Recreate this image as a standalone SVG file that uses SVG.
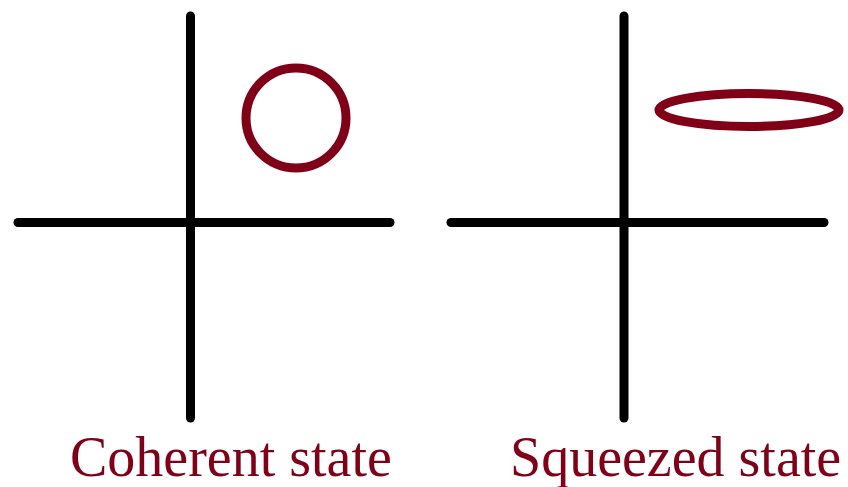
<svg xmlns="http://www.w3.org/2000/svg" width="848" height="487" viewBox="0 0 848 487">
<style>
.axis{stroke:#000;stroke-width:9;stroke-linecap:round;fill:none}
.state{stroke:#800018;stroke-width:9;fill:none}
.lbl{font-family:"Liberation Serif","Times New Roman",serif;font-size:56px;fill:#800018}
</style>
<rect width="848" height="487" fill="#fff"/>
<g id="coherent">
<line class="axis" x1="18" y1="222.5" x2="390" y2="222.5"/>
<line class="axis" x1="190.5" y1="16" x2="190.5" y2="418"/>
<circle class="state" cx="296" cy="118" r="50"/>
<text class="lbl" x="70" y="476">Coherent state</text>
</g>
<g id="squeezed">
<line class="axis" x1="451" y1="222.5" x2="824" y2="222.5"/>
<line class="axis" x1="624" y1="16" x2="624" y2="418"/>
<ellipse class="state" cx="749" cy="110" rx="90" ry="16.5"/>
<text class="lbl" x="510" y="476">Squeezed state</text>
</g>
</svg>
